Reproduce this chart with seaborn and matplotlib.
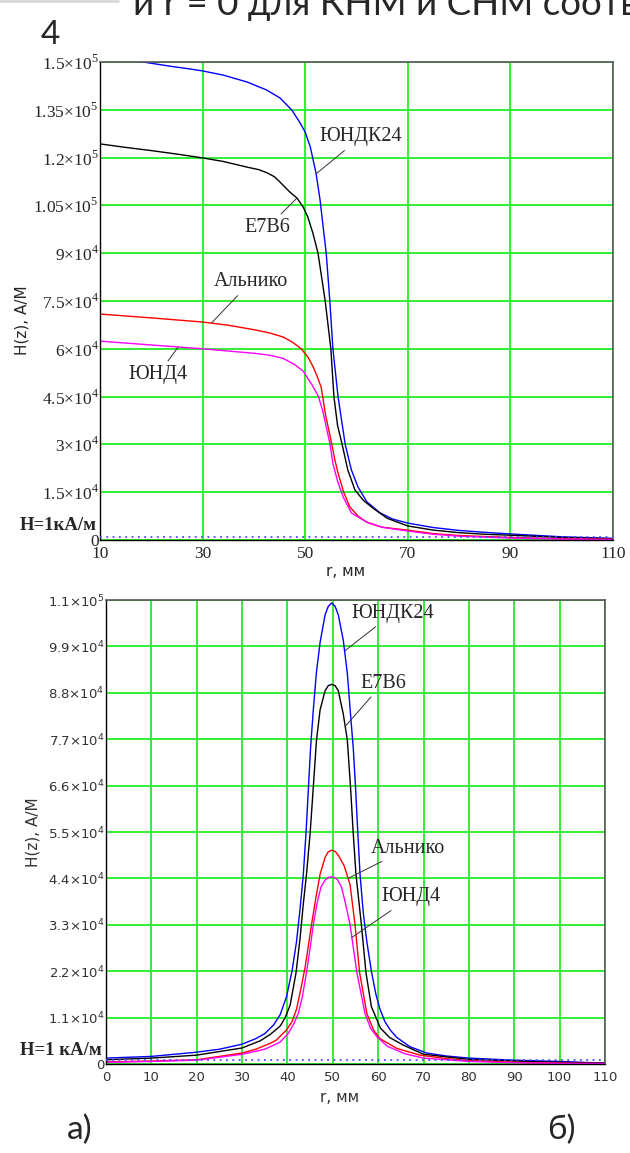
import pandas as pd
import matplotlib
matplotlib.use("Agg")
import matplotlib.pyplot as plt
import matplotlib.transforms as mtransforms
from matplotlib.lines import Line2D
import seaborn as sns

# ---------------- DATA ----------------
names = ["ЮНДК24", "Е7В6", "Альнико", "ЮНД4"]
colors = ["#0000ff", "#000000", "#ff0000", "#ff00ff"]

# а) H(z) vs r, r from 10 to 110 mm
r_a_yndk24 = [15, 18.4, 24, 27.6, 30, 34, 38.7, 42.5, 45.1, 47.4, 49, 50, 51, 52.1, 52.9, 53.5,
              54.1, 54.8, 55.4, 56.4, 57.8, 59, 60.3, 62, 64.6, 67, 70, 75, 80, 85, 90, 100, 110]
H_a_yndk24 = [1.51e5, 1.5e5, 1.486e5, 1.478e5, 1.472e5, 1.459e5, 1.437e5, 1.412e5, 1.387e5,
              1.349e5, 1.309e5, 1.28e5, 1.233e5, 1.152e5, 1.067e5, 9.82e4, 9.0e4, 7.5e4, 6.0e4,
              4.5e4, 3.0e4, 2.2e4, 1.66e4, 1.2e4, 8.5e3, 6.6e3, 5.3e3, 3.9e3, 3.0e3, 2.4e3,
              1.9e3, 1.0e3, 0.5e3]

r_a_e7b6 = [10, 15, 20, 25, 30, 34, 38.7, 41, 42.6, 44, 45.1, 47, 48.4, 49.6, 50.5, 51.5, 52.5,
            53.9, 55.0, 55.6, 56.3, 57.2, 58.3, 59.7, 61.3, 63.2, 66, 70, 75, 80, 85, 90, 100, 110]
H_a_e7b6 = [1.243e5, 1.232e5, 1.222e5, 1.211e5, 1.199e5, 1.188e5, 1.17e5, 1.162e5, 1.152e5,
            1.14e5, 1.123e5, 1.092e5, 1.073e5, 1.045e5, 1.014e5, 9.63e4, 9.0e4, 7.5e4, 6.0e4,
            4.5e4, 3.6e4, 3.0e4, 2.2e4, 1.57e4, 1.25e4, 1.0e4, 6.8e3, 4.4e3, 3.1e3, 2.3e3,
            1.8e3, 1.5e3, 0.8e3, 0.4e3]

r_a_alnico = [10, 20, 30, 35, 40, 43, 45.7, 47.6, 49.2, 50.5, 51.5, 52.3, 53.1, 54.0, 55.0, 55.8,
              56.4, 57.5, 58.7, 60.3, 62, 65, 70, 75, 80, 90, 100, 110]
H_a_alnico = [7.09e4, 6.97e4, 6.84e4, 6.74e4, 6.6e4, 6.5e4, 6.37e4, 6.2e4, 6.0e4, 5.75e4, 5.45e4,
              5.15e4, 4.8e4, 3.9e4, 3.15e4, 2.5e4, 2.1e4, 1.5e4, 1.04e4, 7.5e3, 5.6e3, 4.0e3,
              3.1e3, 2.0e3, 1.4e3, 0.8e3, 0.4e3, 0.2e3]

r_a_ynd4 = [10, 20, 30, 35, 40, 43, 45.7, 48, 49.6, 51.4, 52.6, 53.5, 54.3, 54.8, 55.4, 56.3, 57.4,
            59, 62, 65, 70, 75, 80, 90, 100, 110]
H_a_ynd4 = [6.24e4, 6.12e4, 6.0e4, 5.93e4, 5.86e4, 5.8e4, 5.7e4, 5.5e4, 5.3e4, 4.85e4, 4.5e4,
            4.0e4, 3.4e4, 3.04e4, 2.4e4, 1.85e4, 1.35e4, 8.5e3, 5.6e3, 4.0e3, 2.8e3, 1.8e3,
            1.2e3, 0.6e3, 0.3e3, 0.15e3]

# б) H(z) vs r, r from 0 to 110 mm
r_b_yndk24 = [0, 10, 20, 25, 30, 33, 35, 36.9, 38.4, 39.8, 41.0, 42.0, 42.8, 43.5, 44.1, 44.6,
              45.1, 45.7, 46.4, 47.2, 48.3, 49.0, 49.75, 50.5, 51.2, 52.3, 53.2, 54.0, 54.5, 55.0,
              55.5, 56.0, 56.7, 57.5, 58.5, 59.5, 60.4, 61.5, 62.7, 64.1, 67, 70.7, 75, 80, 90,
              100, 110]
H_b_yndk24 = [1.4e3, 1.8e3, 2.8e3, 3.5e3, 4.7e3, 6.0e3, 7.2e3, 9.2e3, 1.17e4, 1.6e4, 2.2e4,
              2.9e4, 3.7e4, 4.5e4, 5.5e4, 6.5e4, 7.5e4, 8.4e4, 9.3e4, 1.0e5, 1.065e5, 1.085e5,
              1.093e5, 1.085e5, 1.065e5, 1.005e5, 9.26e4, 8.16e4, 7.5e4, 6.57e4, 5.5e4, 4.5e4,
              3.6e4, 2.9e4, 2.2e4, 1.65e4, 1.3e4, 1.0e4, 8.0e3, 6.3e3, 4.1e3, 2.6e3, 1.9e3,
              1.4e3, 0.9e3, 0.6e3, 0.2e3]

r_b_e7b6 = [0, 10, 20, 30, 34, 36.2, 38.4, 39.5, 40.6, 41.9, 42.8, 43.5, 44.2, 45.0, 45.7, 46.4,
            47.2, 48.3, 49.0, 49.75, 50.5, 51.2, 52.3, 53.2, 53.9, 54.5, 55.1, 55.7, 56.3, 57.3,
            58.5, 60.5, 62.5, 65.5, 70, 80, 90, 100, 110]
H_b_e7b6 = [1.0e3, 1.4e3, 2.1e3, 3.8e3, 5.5e3, 7.0e3, 9.0e3, 1.1e4, 1.4e4, 2.17e4, 3.0e4, 3.8e4,
            4.5e4, 5.47e4, 6.57e4, 7.68e4, 8.4e4, 8.85e4, 8.97e4, 9.0e4, 8.97e4, 8.85e4, 8.3e4,
            7.68e4, 6.57e4, 5.47e4, 4.5e4, 3.9e4, 3.3e4, 2.17e4, 1.36e4, 8.5e3, 6.3e3, 4.5e3,
            2.3e3, 1.1e3, 0.7e3, 0.4e3, 0.2e3]

r_b_alnico = [0, 10, 20, 30, 33, 36.2, 37.6, 39.8, 41.0, 42.0, 43.0, 43.9, 44.6, 45.3, 46.2, 47.2,
              48.3, 49.0, 49.75, 50.5, 51.2, 52.5, 53.8, 54.9, 55.9, 57.5, 59, 60.4, 64.1, 69.2,
              75, 80, 90, 100, 110]
H_b_alnico = [0.5e3, 0.7e3, 1.0e3, 2.6e3, 3.5e3, 4.9e3, 5.7e3, 8.1e3, 1.0e4, 1.3e4, 1.8e4, 2.3e4,
              2.8e4, 3.3e4, 3.9e4, 4.5e4, 4.9e4, 5.03e4, 5.07e4, 5.04e4, 4.95e4, 4.7e4, 4.25e4,
              3.3e4, 2.17e4, 1.2e4, 8.0e3, 6.0e3, 3.7e3, 2.1e3, 1.3e3, 0.8e3, 0.4e3, 0.2e3,
              0.1e3]

r_b_ynd4 = [0, 10, 20, 30, 35, 38.4, 40.2, 41.4, 42.4, 43.3, 44.2, 45.0, 45.7, 46.5, 47.4, 48.3,
            49.0, 49.75, 50.4, 51.0, 51.9, 52.8, 53.8, 55.3, 57.1, 58.3, 59.7, 62, 66, 70, 80, 90,
            100, 110]
H_b_ynd4 = [0.4e3, 0.6e3, 0.9e3, 2.3e3, 3.5e3, 5.2e3, 7.3e3, 9.5e3, 1.2e4, 1.6e4, 2.17e4, 2.75e4,
            3.3e4, 3.8e4, 4.2e4, 4.36e4, 4.42e4, 4.44e4, 4.42e4, 4.37e4, 4.2e4, 3.8e4, 3.3e4,
            2.17e4, 1.2e4, 8.5e3, 6.5e3, 4.2e3, 2.4e3, 1.4e3, 0.6e3, 0.3e3, 0.15e3, 0.1e3]

H_level = 1000  # H = 1 кА/м

xticks_a = [10, 30, 50, 70, 90, 110]
yticks_a = [0, 1.5e4, 3e4, 4.5e4, 6e4, 7.5e4, 9e4, 1.05e5, 1.2e5, 1.35e5, 1.5e5]
ylabels_a = ["0", "1.5×10$^{\\mathregular{4}}$", "3×10$^{\\mathregular{4}}$",
             "4.5×10$^{\\mathregular{4}}$", "6×10$^{\\mathregular{4}}$",
             "7.5×10$^{\\mathregular{4}}$", "9×10$^{\\mathregular{4}}$",
             "1.05×10$^{\\mathregular{5}}$", "1.2×10$^{\\mathregular{5}}$",
             "1.35×10$^{\\mathregular{5}}$", "1.5×10$^{\\mathregular{5}}$"]

xticks_b = [0, 10, 20, 30, 40, 50, 60, 70, 80, 90, 100, 110]
yticks_b = [0, 1.1e4, 2.2e4, 3.3e4, 4.4e4, 5.5e4, 6.6e4, 7.7e4, 8.8e4, 9.9e4, 1.1e5]
ylabels_b = ["0", "1.1×10$^{\\mathregular{4}}$", "2.2×10$^{\\mathregular{4}}$",
             "3.3×10$^{\\mathregular{4}}$", "4.4×10$^{\\mathregular{4}}$",
             "5.5×10$^{\\mathregular{4}}$", "6.6×10$^{\\mathregular{4}}$",
             "7.7×10$^{\\mathregular{4}}$", "8.8×10$^{\\mathregular{4}}$",
             "9.9×10$^{\\mathregular{4}}$", "1.1×10$^{\\mathregular{5}}$"]


def long_df(rs, hs):
    parts = [pd.DataFrame({"r": r, "H": h, "mat": n}) for r, h, n in zip(rs, hs, names)]
    return pd.concat(parts, ignore_index=True)


df_a = long_df([r_a_yndk24, r_a_e7b6, r_a_alnico, r_a_ynd4],
               [H_a_yndk24, H_a_e7b6, H_a_alnico, H_a_ynd4])
df_b = long_df([r_b_yndk24, r_b_e7b6, r_b_alnico, r_b_ynd4],
               [H_b_yndk24, H_b_e7b6, H_b_alnico, H_b_ynd4])

# ---------------- PLOT ----------------
sns.set_style("white")
plt.rcParams['font.family'] = ['Liberation Serif', 'DejaVu Serif']

SERIF = 'Liberation Serif'
SANS = 'DejaVu Sans'
GRID = '#33ee33'

fig = plt.figure(figsize=(6.3, 11.53), dpi=100)
ax1 = fig.add_axes([100 / 630, 1 - 540 / 1153, 513 / 630, 478 / 1153])
ax2 = fig.add_axes([106 / 630, 1 - 1064 / 1153, 499 / 630, 464 / 1153])

pal = dict(zip(names, colors))
for ax, df in [(ax1, df_a), (ax2, df_b)]:
    sns.lineplot(data=df, x="r", y="H", hue="mat", hue_order=names, palette=pal,
                 estimator=None, sort=False, legend=False, linewidth=1.0, ax=ax)
    ax.axhline(H_level, color='#4a4aff', lw=1.3, ls=(0, (1, 2.5)), zorder=3)
    ax.grid(True, color=GRID, lw=1.4)
    ax.set_axisbelow(True)
    ax.tick_params(length=0)
    for s in ['left', 'bottom']:
        ax.spines[s].set_color('black')
        ax.spines[s].set_linewidth(1.0)
    for s in ['top', 'right']:
        ax.spines[s].set_color('#555555')
        ax.spines[s].set_linewidth(1.2)

# а)
ax1.set_xlim(10, 110)
ax1.set_ylim(0, 1.5e5)
ax1.set_xticks(xticks_a, labels=[str(t) for t in xticks_a], fontfamily=SERIF, fontsize=12.5)
ax1.set_yticks(yticks_a, labels=ylabels_a, fontfamily=SERIF, fontsize=12.5)
ax1.tick_params(axis='y', pad=1)
ax1.tick_params(axis='x', pad=4)
ax1.set_xlabel("r, мм", fontfamily=SANS, fontsize=11)
ax1.xaxis.set_label_coords(0.478, -0.05)
ax1.set_ylabel("H(z), А/М", fontfamily=SANS, fontsize=11)
ax1.yaxis.set_label_coords(-0.138, 0.46)

# б)
ax2.set_xlim(0, 110)
ax2.set_ylim(0, 1.1e5)
ax2.set_xticks(xticks_b, labels=[str(t) for t in xticks_b], fontfamily=SANS, fontsize=9.5,
               color='#333333')
ax2.set_yticks(yticks_b, labels=ylabels_b, fontfamily=SANS, fontsize=9.5, color='#333333')
ax2.tick_params(axis='y', pad=1)
ax2.tick_params(axis='x', pad=5)
ax2.set_xlabel("r, мм", fontfamily=SANS, fontsize=11, color='#333333')
ax2.xaxis.set_label_coords(0.469, -0.056)
ax2.set_ylabel("H(z), А/М", fontfamily=SANS, fontsize=11, color='#333333')
ax2.yaxis.set_label_coords(-0.132, 0.5)

# curve labels with leader lines
lead = dict(arrowstyle='-', lw=0.7, color='#333333', shrinkA=1, shrinkB=0)
lab = dict(ha='center', va='center', fontfamily=SERIF, fontsize=14.5, arrowprops=lead)
ax1.annotate("ЮНДК24", xy=(52.2, 1.15e5), xytext=(60.9, 1.265e5), **lab)
ax1.annotate("Е7В6", xy=(48.4, 1.073e5), xytext=(42.6, 9.8e4), **lab)
ax1.annotate("Альнико", xy=(31.8, 6.82e4), xytext=(39.4, 8.1e4), **lab)
ax1.annotate("ЮНД4", xy=(25.2, 6.05e4), xytext=(21.3, 5.18e4), **lab)

ax2.annotate("ЮНДК24", xy=(52.7, 9.8e4), xytext=(63.3, 1.069e5), **lab)
ax2.annotate("Е7В6", xy=(52.7, 8.0e4), xytext=(61.1, 9.03e4), **lab)
ax2.annotate("Альнико", xy=(53.4, 4.4e4), xytext=(66.6, 5.12e4), **lab)
ax2.annotate("ЮНД4", xy=(54.2, 3.0e4), xytext=(67.2, 3.96e4), **lab)

# H = 1 кА/м marks
for ax, txt, xr, yv in [(ax1, "H=1кА/м", -0.006, 4.4e3), (ax2, "H=1 кА/м", -0.008, 3.1e3)]:
    tr = mtransforms.blended_transform_factory(ax.transAxes, ax.transData)
    ax.text(xr, yv, txt, transform=tr, ha='right', va='center', fontfamily=SERIF,
            fontsize=13.5, fontweight='bold')

# page text around the figure
fig.text(133 / 630, 1 - 15 / 1153, "и r = 0 для КНМ и СНМ соотв", ha='left', va='baseline',
         fontfamily='Lato', fontsize=26.5)
fig.add_artist(Line2D([0, 118 / 630], [1 - 1 / 1153, 1 - 1 / 1153], color='#d8d8d8', lw=2))
fig.text(50 / 630, 1 - 35 / 1153, "4", ha='center', va='center', fontfamily='Lato', fontsize=24)
fig.text(80 / 630, 1 - 1130 / 1153, "а)", ha='center', va='center', fontfamily='Lato',
         fontsize=24)
fig.text(561 / 630, 1 - 1130 / 1153, "б)", ha='center', va='center', fontfamily='Lato',
         fontsize=24)

fig.savefig("out.png", dpi=100)
